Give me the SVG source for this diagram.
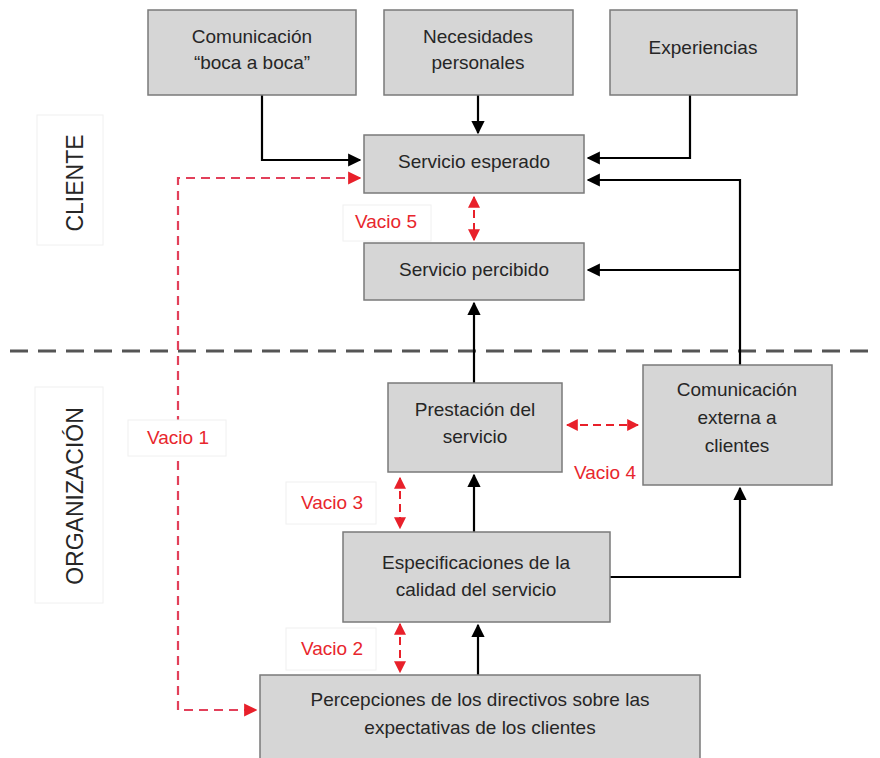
<svg xmlns="http://www.w3.org/2000/svg" width="880" height="758" viewBox="0 0 880 758">
<style>
.box{fill:#d6d6d6;stroke:#7a7a7a;stroke-width:1.5}
.t{font-family:"Liberation Sans","Open Sans",sans-serif;font-size:19px;fill:#262626;text-anchor:middle}
.side{font-family:"Liberation Sans","Open Sans",sans-serif;font-size:23px;fill:#262626;text-anchor:middle}
.vl{font-family:"Liberation Sans","Open Sans",sans-serif;font-size:19px;fill:#e8262d;text-anchor:middle}
.lbg{fill:#ffffff;stroke:#f0f0f0;stroke-width:1}
.c{fill:none;stroke:#000;stroke-width:2.2}
.r{fill:none;stroke:#e8202a;stroke-width:2;stroke-dasharray:8 5}
.r1{fill:none;stroke:#e2405a;stroke-width:2.2;stroke-dasharray:9 6}
</style>
<defs>
<marker id="ab" viewBox="0 0 10 10" refX="9" refY="5" markerWidth="6" markerHeight="6" orient="auto" markerUnits="strokeWidth"><path d="M0,0 L10,5 L0,10 Z" fill="#000"/></marker>
<marker id="ar" viewBox="0 0 10 10" refX="9" refY="5" markerWidth="6" markerHeight="6" orient="auto-start-reverse" markerUnits="strokeWidth"><path d="M0,0 L10,5 L0,10 Z" fill="#e8202a"/></marker>
</defs>
<rect width="880" height="758" fill="#fff"/>

<g id="labels">
<rect class="lbg" x="37" y="115" width="66" height="130"/>
<text class="side" transform="translate(83,183) rotate(-90)">CLIENTE</text>
<rect class="lbg" x="35" y="387" width="68" height="216"/>
<text class="side" transform="translate(83,496) rotate(-90)">ORGANIZACIÓN</text>
<line x1="10" y1="351" x2="876" y2="351" stroke="#555" stroke-width="3" stroke-dasharray="18 10"/>
</g>

<g id="connectors">
<polyline class="c" points="262,95 262,160 360,160" marker-end="url(#ab)"/>
<line class="c" x1="478" y1="95" x2="478" y2="133" marker-end="url(#ab)"/>
<polyline class="c" points="690,95 690,158 588,158" marker-end="url(#ab)"/>
<polyline class="c" points="740,365 740,180 588,180" marker-end="url(#ab)"/>
<line class="c" x1="740" y1="270" x2="588" y2="270" marker-end="url(#ab)"/>
<line class="c" x1="474" y1="383" x2="474" y2="303" marker-end="url(#ab)"/>
<line class="c" x1="474" y1="532" x2="474" y2="475" marker-end="url(#ab)"/>
<polyline class="c" points="610,577 740,577 740,488" marker-end="url(#ab)"/>
<line class="c" x1="478" y1="675" x2="478" y2="625" marker-end="url(#ab)"/>
<polyline class="r1" points="360,178 178,178 178,710 256,710" marker-start="url(#ar)" marker-end="url(#ar)"/>
<line class="r" x1="474" y1="197" x2="474" y2="240" marker-start="url(#ar)" marker-end="url(#ar)"/>
<line class="r" x1="567" y1="425" x2="638" y2="425" marker-start="url(#ar)" marker-end="url(#ar)"/>
<line class="r" x1="400" y1="478" x2="400" y2="528" marker-start="url(#ar)" marker-end="url(#ar)"/>
<line class="r" x1="400" y1="624" x2="400" y2="672" marker-start="url(#ar)" marker-end="url(#ar)"/>
</g>

<g id="vacio1"><rect class="lbg" x="128" y="420" width="98" height="36"/><text class="vl" x="178" y="444">Vacio 1</text></g>
<g id="vacio5"><rect class="lbg" x="343" y="205" width="88" height="36"/><text class="vl" x="386" y="228">Vacio 5</text></g>
<g id="vacio4"><text class="vl" x="605" y="479">Vacio 4</text></g>
<g id="vacio3"><rect class="lbg" x="286" y="482" width="90" height="42"/><text class="vl" x="332" y="509">Vacio 3</text></g>
<g id="vacio2"><rect class="lbg" x="286" y="628" width="90" height="42"/><text class="vl" x="332" y="655">Vacio 2</text></g>

<g id="boca"><rect class="box" x="148" y="10" width="208" height="85"/><text class="t" x="252" y="43">Comunicación</text><text class="t" x="252" y="69">“boca a boca”</text></g>
<g id="necesidades"><rect class="box" x="384" y="10" width="189" height="85"/><text class="t" x="478" y="43">Necesidades</text><text class="t" x="478" y="69">personales</text></g>
<g id="experiencias"><rect class="box" x="610" y="10" width="187" height="85"/><text class="t" x="703" y="54">Experiencias</text></g>
<g id="esperado"><rect class="box" x="364" y="135" width="220" height="58"/><text class="t" x="474" y="168">Servicio esperado</text></g>
<g id="percibido"><rect class="box" x="364" y="243" width="220" height="57"/><text class="t" x="474" y="276">Servicio percibido</text></g>
<g id="prestacion"><rect class="box" x="388" y="383" width="174" height="89"/><text class="t" x="475" y="416">Prestación del</text><text class="t" x="475" y="443">servicio</text></g>
<g id="externa"><rect class="box" x="643" y="365" width="189" height="120"/><text class="t" x="737" y="396">Comunicación</text><text class="t" x="737" y="424">externa a</text><text class="t" x="737" y="452">clientes</text></g>
<g id="especificaciones"><rect class="box" x="343" y="532" width="267" height="90"/><text class="t" x="476" y="569">Especificaciones de la</text><text class="t" x="476" y="596">calidad del servicio</text></g>
<g id="percepciones"><rect class="box" x="260" y="675" width="440" height="90"/><text class="t" x="480" y="706">Percepciones de los directivos sobre las</text><text class="t" x="480" y="734">expectativas de los clientes</text></g>
</svg>
